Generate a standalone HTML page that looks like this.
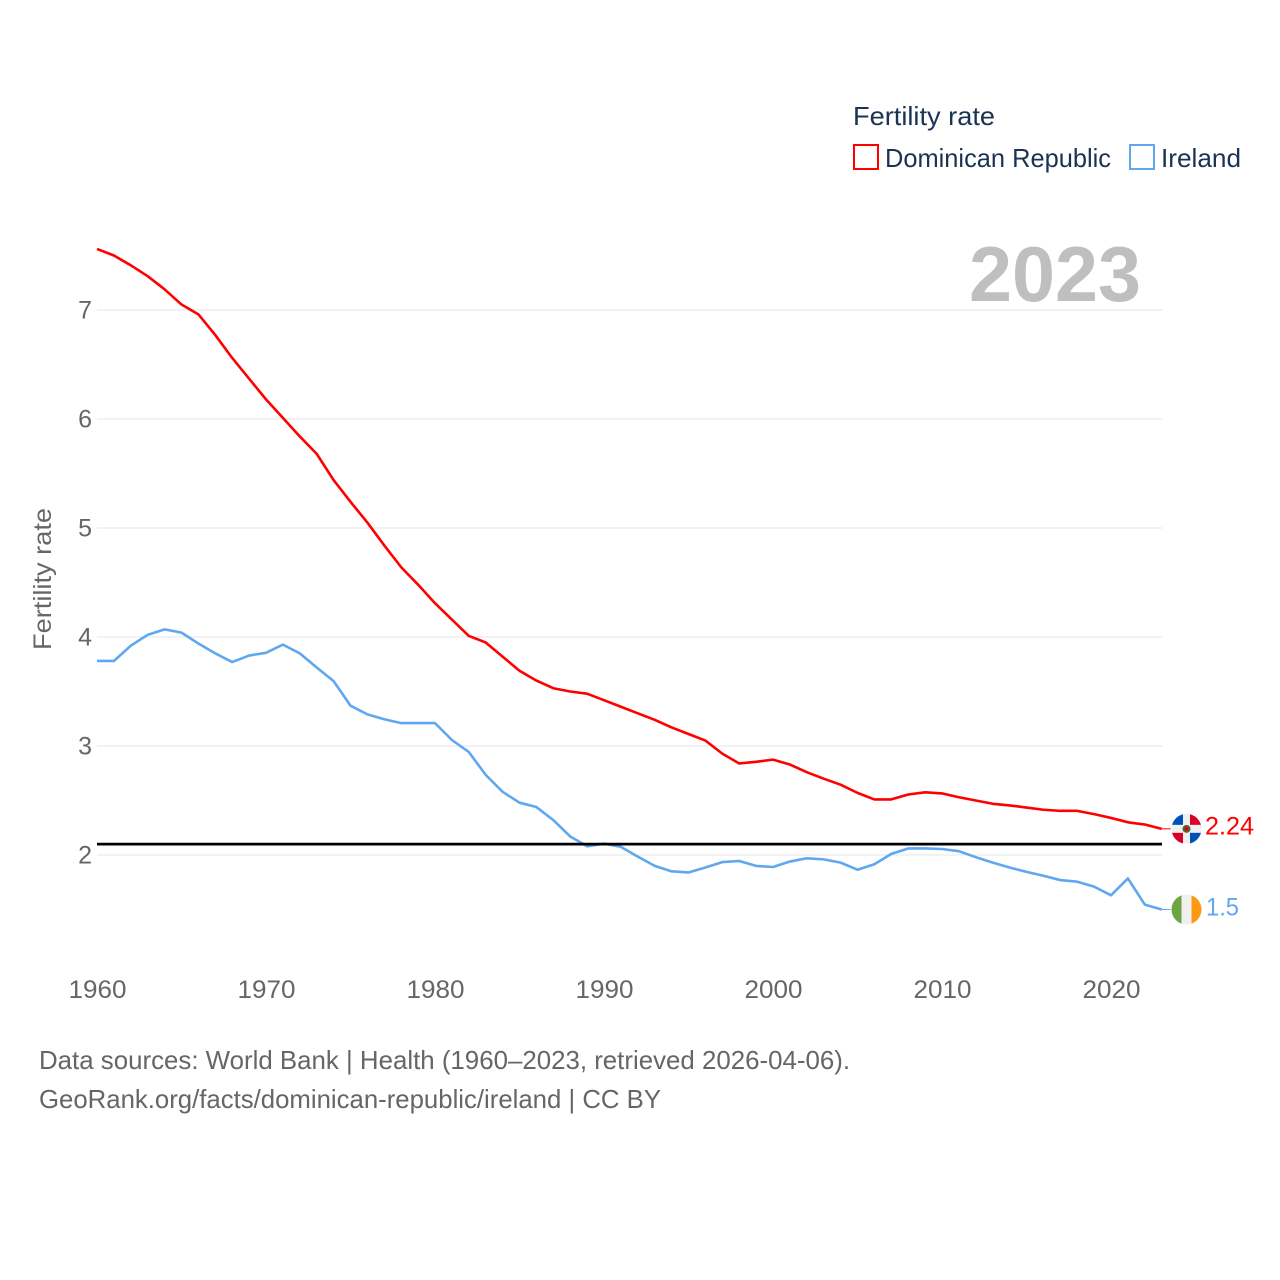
<!DOCTYPE html>
<html lang="en">
<head>
<meta charset="utf-8">
<title>Fertility rate: Dominican Republic and Ireland</title>
<style>
html,body{margin:0;padding:0;background:#fff;}
svg{display:block;}
text{font-family:"Liberation Sans",sans-serif;}
</style>
</head>
<body>
<svg id="chart" xmlns="http://www.w3.org/2000/svg" width="1280" height="1280" viewBox="0 0 1280 1280">
  <defs>
    <clipPath id="clip-flag-dr"><circle cx="0" cy="0" r="15"></circle></clipPath>
    <clipPath id="clip-flag-ie"><circle cx="0" cy="0" r="15"></circle></clipPath>
  </defs>
  <rect x="0" y="0" width="1280" height="1280" fill="#ffffff"></rect>

  <g id="legend">
    <text x="853" y="125" font-size="26" fill="#1a3353" textLength="142" lengthAdjust="spacingAndGlyphs">Fertility rate</text>
    <g>
      <rect x="854" y="145" width="24" height="24" fill="none" stroke="#ff0000" stroke-width="2"></rect>
      <text x="885" y="167" font-size="26" fill="#1a3353" textLength="226" lengthAdjust="spacingAndGlyphs">Dominican Republic</text>
    </g>
    <g>
      <rect x="1130" y="145" width="24" height="24" fill="none" stroke="#5fa8f0" stroke-width="2"></rect>
      <text x="1161" y="167" font-size="26" fill="#1a3353" textLength="80" lengthAdjust="spacingAndGlyphs">Ireland</text>
    </g>
  </g>

  <text x="969" y="301" font-size="78" font-weight="700" fill="#bfbfbf" textLength="172" lengthAdjust="spacingAndGlyphs">2023</text>

  <g id="grid"></g>
  <g id="y-ticks"></g>
  <g id="x-ticks"></g>
  <text transform="translate(51,579) rotate(-90)" text-anchor="middle" font-size="25" fill="#666666" textLength="142" lengthAdjust="spacingAndGlyphs">Fertility rate</text>

  <g id="series"></g>
  <g id="markers"></g>

  <text x="39" y="1069" font-size="26" fill="#666666" textLength="811" lengthAdjust="spacingAndGlyphs">Data sources: World Bank | Health (1960–2023, retrieved 2026-04-06).</text>
  <text x="39" y="1108" font-size="26" fill="#666666" textLength="622" lengthAdjust="spacingAndGlyphs">GeoRank.org/facts/dominican-republic/ireland | CC BY</text>
</svg>

<script>
const startYear = 1960;
const dominicanRepublic = [7.56,7.50,7.41,7.31,7.19,7.05,6.96,6.77,6.56,6.37,6.18,6.01,5.84,5.68,5.44,5.24,5.05,4.84,4.64,4.48,4.31,4.16,4.01,3.95,3.82,3.69,3.60,3.53,3.50,3.48,3.42,3.36,3.30,3.24,3.17,3.11,3.05,2.93,2.84,2.855,2.875,2.83,2.76,2.70,2.645,2.57,2.51,2.51,2.555,2.575,2.565,2.53,2.50,2.47,2.455,2.435,2.415,2.405,2.405,2.375,2.34,2.30,2.28,2.24];
const ireland = [3.78,3.78,3.92,4.02,4.07,4.04,3.94,3.85,3.77,3.83,3.855,3.93,3.85,3.72,3.595,3.37,3.29,3.245,3.21,3.21,3.21,3.055,2.945,2.735,2.58,2.48,2.44,2.32,2.17,2.08,2.105,2.075,1.985,1.90,1.85,1.84,1.885,1.935,1.945,1.90,1.89,1.94,1.97,1.96,1.93,1.865,1.915,2.01,2.06,2.06,2.055,2.035,1.98,1.93,1.885,1.845,1.81,1.77,1.755,1.71,1.63,1.785,1.545,1.50];
const yTickValues = [2,3,4,5,6,7];
const xTickValues = [1960,1970,1980,1990,2000,2010,2020];
const replacementLevel = [2.1];
const endLabels = ["2.24","1.5"];

const NS = "http://www.w3.org/2000/svg";
const plotLeft = 97;
const plotRight = 1162;
function xScale(year){ return 97 + (year - 1960) * 16.9; }
function yScale(value){ return 855 - (value - 2) * 109; }
function make(tag, attrs, parent){
  const el = document.createElementNS(NS, tag);
  for (const k in attrs) el.setAttribute(k, attrs[k]);
  parent.appendChild(el);
  return el;
}
function linePath(values){
  return values.map(function(v, i){
    return (i ? "L" : "M") + xScale(startYear + i).toFixed(2) + " " + yScale(v).toFixed(2);
  }).join(" ");
}

const gridG = document.getElementById("grid");
const yG = document.getElementById("y-ticks");
yTickValues.forEach(function(v){
  const g = make("line", {x1: plotLeft, x2: plotRight, y1: yScale(v), y2: yScale(v), stroke: "#e4e4e4", "stroke-width": 1}, gridG);
  
  
  const t = make("text", {x: 92, y: yScale(v) + 8.5, "text-anchor": "end", "font-size": 25, fill: "#666666"}, yG);
  
  
  t.textContent = String(v);
});

const xG = document.getElementById("x-ticks");
xTickValues.forEach(function(v){
  const t = make("text", {x: xScale(v) + 0.5, y: 998, "text-anchor": "middle", "font-size": 25, fill: "#666666", textLength: 58, lengthAdjust: "spacingAndGlyphs"}, xG);
  
  
  t.textContent = String(v);
});

const seriesG = document.getElementById("series");
const lineDr = make("path", {d: linePath(dominicanRepublic), fill: "none", stroke: "#ff0000", "stroke-width": 2.6, "stroke-linejoin": "round"}, seriesG);


const lineIe = make("path", {d: linePath(ireland), fill: "none", stroke: "#5fa8f0", "stroke-width": 2.6, "stroke-linejoin": "round"}, seriesG);


const refLine = make("line", {x1: plotLeft, x2: plotRight, y1: yScale(replacementLevel[0]), y2: yScale(replacementLevel[0]), stroke: "#000000", "stroke-width": 2.8}, seriesG);



const markersG = document.getElementById("markers");
const lastYear = startYear + dominicanRepublic.length - 1;
const endX = xScale(lastYear);
const yDr = yScale(dominicanRepublic[dominicanRepublic.length - 1]);
const yIe = yScale(ireland[ireland.length - 1]);

const connDr = make("line", {x1: endX, x2: endX + 9, y1: yDr, y2: yDr, stroke: "#ff0000", "stroke-width": 1}, markersG);


const connIe = make("line", {x1: endX, x2: endX + 9, y1: yIe, y2: yIe, stroke: "#5fa8f0", "stroke-width": 1}, markersG);



const flagDr = make("g", {transform: "translate(1186.5," + yDr + ")", "clip-path": "url(#clip-flag-dr)"}, markersG);


make("rect", {x: -15, y: -15, width: 30, height: 30, fill: "#f0f0f0"}, flagDr);
make("rect", {x: -15, y: -15, width: 11.5, height: 11, fill: "#0052b4"}, flagDr);
make("rect", {x: 3.5, y: -15, width: 11.5, height: 11, fill: "#d80027"}, flagDr);
make("rect", {x: -15, y: 4, width: 11.5, height: 11, fill: "#d80027"}, flagDr);
make("rect", {x: 3.5, y: 4, width: 11.5, height: 11, fill: "#0052b4"}, flagDr);
make("circle", {cx: 0, cy: 0, r: 4, fill: "#496e2d"}, flagDr);
make("circle", {cx: 0, cy: 0, r: 2, fill: "#d80027"}, flagDr);

const flagIe = make("g", {transform: "translate(1186.5," + yIe + ")", "clip-path": "url(#clip-flag-ie)"}, markersG);


make("rect", {x: -15, y: -15, width: 10, height: 30, fill: "#6da544"}, flagIe);
make("rect", {x: -5, y: -15, width: 10, height: 30, fill: "#f0f0f0"}, flagIe);
make("rect", {x: 5, y: -15, width: 10, height: 30, fill: "#ff9811"}, flagIe);

const labelDr = make("text", {x: 1205, y: yDr + 5.5, "font-size": 25, fill: "#ff0000", textLength: 49, lengthAdjust: "spacingAndGlyphs"}, markersG);


labelDr.textContent = endLabels[0];
const labelIe = make("text", {x: 1206, y: yIe + 6, "font-size": 25, fill: "#5fa8f0", textLength: 33, lengthAdjust: "spacingAndGlyphs"}, markersG);


labelIe.textContent = endLabels[1];
</script>
</body>
</html>
